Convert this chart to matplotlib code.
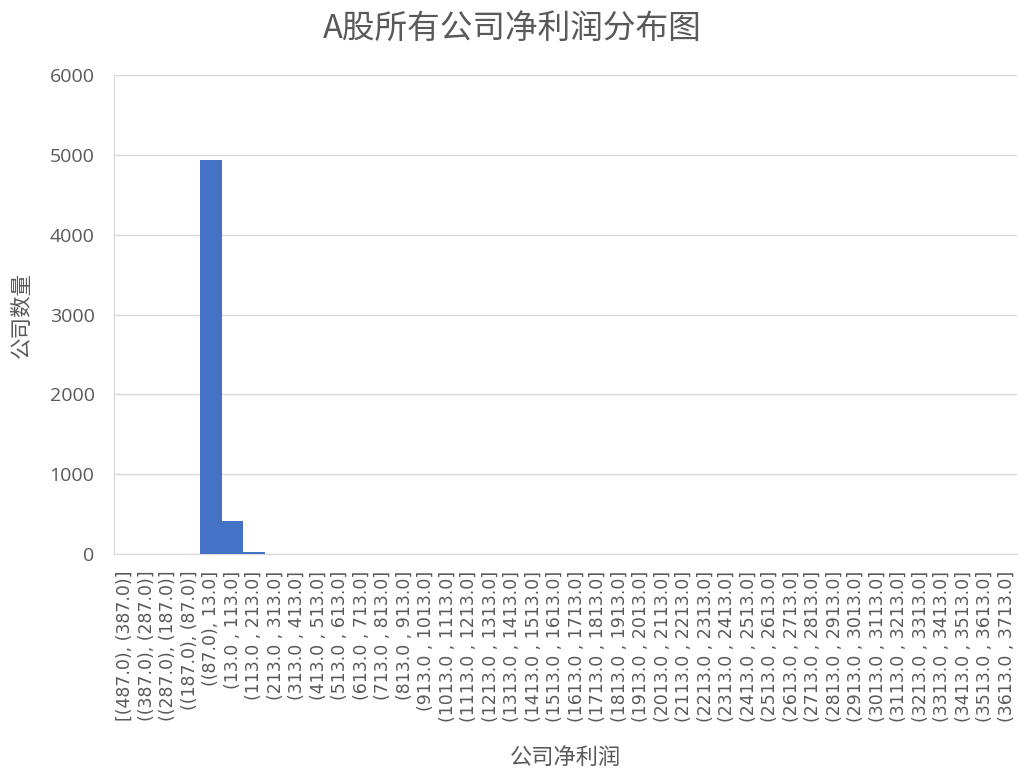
import matplotlib
matplotlib.use("Agg")
import matplotlib.pyplot as plt
import numpy as np

plt.rcParams['font.family'] = ['Noto Sans CJK SC', 'DejaVu Sans']

lower_bounds = list(range(-487, 3613 + 1, 100))

def fmt(v):
    return f"({abs(v)}.0)" if v < 0 else f"{v}.0"

categories = []
for i, lo in enumerate(lower_bounds):
    hi = lo + 100
    left = "[" if i == 0 else "("
    if lo < 0:
        categories.append(f"{left}{fmt(lo)}, {fmt(hi)}]")
    else:
        categories.append(f"{left}{fmt(lo)} , {fmt(hi)}]")

counts = [1, 1, 1, 2, 4930, 410, 20, 4, 2, 1, 1, 1, 1, 1, 0, 1, 0, 0, 1, 0, 0,
          0, 0, 1, 0, 0, 0, 0, 0, 0, 0, 1, 0, 0, 0, 0, 0, 0, 0, 0, 0, 1]

yticks = [0, 1000, 2000, 3000, 4000, 5000, 6000]
title = "A股所有公司净利润分布图"
xlabel = "公司净利润"
ylabel = "公司数量"

gray = "#595959"
fig = plt.figure(figsize=(10.24, 7.78), dpi=100)
ax = fig.add_axes([114/1024, 1 - 554/778, (1017 - 114)/1024, (554 - 75)/778])

x = np.arange(len(categories))
ax.bar(x, counts, width=1.0, color="#4472C4", edgecolor="none", zorder=3)
ax.set_xlim(-0.5, len(categories) - 0.5)
ax.set_ylim(0, 6000)
ax.set_yticks(yticks)
ax.set_yticklabels([str(v) for v in yticks], fontsize=14, color=gray,
                   family=['Open Sans', 'DejaVu Sans'])
ax.set_xticks(x)
ax.set_xticklabels(categories, rotation=90, fontsize=12.5, color=gray,
                   family=['DejaVu Sans'])
ax.tick_params(axis='both', length=0)
ax.tick_params(axis='y', pad=14)
ax.tick_params(axis='x', pad=12)
ax.grid(axis='y', color="#d9d9d9", linewidth=1, zorder=0)
for s in ['top', 'right']:
    ax.spines[s].set_visible(False)
ax.spines['left'].set_color("#d9d9d9")
ax.spines['bottom'].set_color("#d9d9d9")

fig.text(0.5, 1 - 30/778, title, ha='center', va='center', fontsize=23.5, color=gray)
fig.text(565/1024, 1 - 757/778, xlabel, ha='center', va='center', fontsize=16, color=gray)
fig.text(22/1024, 1 - 315/778, ylabel, ha='center', va='center', fontsize=15.5,
         color=gray, rotation=90)

fig.savefig("out.png", dpi=100)
